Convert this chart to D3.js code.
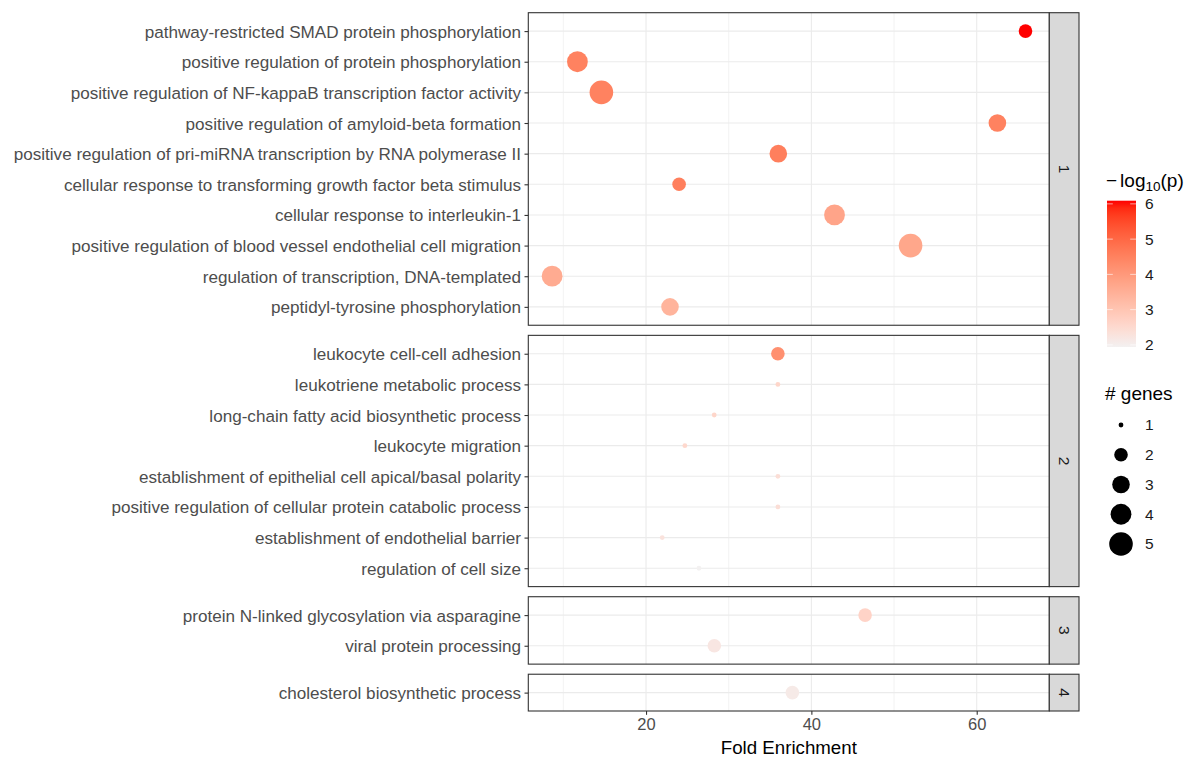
<!DOCTYPE html>
<html><head><meta charset="utf-8">
<script src="https://cdn.jsdelivr.net/npm/d3@7"></script>
<style>body{margin:0;background:#fff}svg{display:block;font-family:"Liberation Sans",Arial,sans-serif}</style>
</head><body><svg id="c" width="1193" height="758"></svg>
<script>
// ---- data ----
const terms = [
 "pathway-restricted SMAD protein phosphorylation",
 "positive regulation of protein phosphorylation",
 "positive regulation of NF-kappaB transcription factor activity",
 "positive regulation of amyloid-beta formation",
 "positive regulation of pri-miRNA transcription by RNA polymerase II",
 "cellular response to transforming growth factor beta stimulus",
 "cellular response to interleukin-1",
 "positive regulation of blood vessel endothelial cell migration",
 "regulation of transcription, DNA-templated",
 "peptidyl-tyrosine phosphorylation",
 "leukocyte cell-cell adhesion",
 "leukotriene metabolic process",
 "long-chain fatty acid biosynthetic process",
 "leukocyte migration",
 "establishment of epithelial cell apical/basal polarity",
 "positive regulation of cellular protein catabolic process",
 "establishment of endothelial barrier",
 "regulation of cell size",
 "protein N-linked glycosylation via asparagine",
 "viral protein processing",
 "cholesterol biosynthetic process"
];
const clusters = [1,1,1,1,1,1,1,1,1,1, 2,2,2,2,2,2,2,2, 3,3, 4];
const foldEnrichment = [65.9,11.7,14.6,62.5,36.0,24.0,42.8,52.0,8.64,22.9,
  35.95,35.95,28.25,24.7,35.95,35.95,21.96,26.4, 46.5,28.26, 37.7];
const negLog10P = [6.09,4.5,4.5,4.5,4.55,4.55,3.75,3.7,3.6,3.4,
  4.2,2.6,2.6,2.55,2.4,2.4,2.3,1.94, 2.65,2.2, 2.1];
const geneCount = [2,4,5,3,3,2,4,5,4,3, 2,1,1,1,1,1,1,1, 2,2, 2];
const xTicks = [20,40,60];
const colorTicks = [2,3,4,5,6];
const sizeBreaks = [1,2,3,4,5];
const panelIds = [1,2,3,4];

// ---- layout ----
const svg = d3.select("#c");
const FONT = '"Liberation Sans",Arial,sans-serif';
const left = 528.3, right = 1049.3, top0 = 12.7, bottom0 = 711, gap = 10.1;
const stripW = 29.7;
const x = d3.scaleLinear().domain([5.76, 68.78]).range([left, right]);
const counts = panelIds.map(id => clusters.filter(c => c === id).length);
const unit = (bottom0 - top0 - gap * (panelIds.length - 1)) / d3.sum(counts, n => n + 0.2);
const color = d3.scaleLinear().domain([1.94, 6.09]).range(["#F3F1F1", "#FF0000"]).interpolate(d3.interpolateLab);
const size = d3.scaleLinear().domain(sizeBreaks).range([2.4, 6.8, 8.8, 10.4, 11.8]);

const data = terms.map((t, i) => ({term: t, cl: clusters[i], fe: foldEnrichment[i], p: negLog10P[i], g: geneCount[i]}));

let yPos = top0;
panelIds.forEach((id, k) => {
  const rows = data.filter(d => d.cl === id);
  const h = (rows.length + 0.2) * unit;
  const y = d3.scalePoint().domain(rows.map(d => d.term)).range([yPos, yPos + h]).padding(0.6);
  const g = svg.append("g");
  g.selectAll(".mg").data([10,30,50]).join("line")
    .attr("x1", d => x(d)).attr("x2", d => x(d)).attr("y1", yPos).attr("y2", yPos + h)
    .attr("stroke", "#EBEBEB").attr("stroke-width", 0.6);
  g.selectAll(".Mg").data(xTicks).join("line")
    .attr("x1", d => x(d)).attr("x2", d => x(d)).attr("y1", yPos).attr("y2", yPos + h)
    .attr("stroke", "#EBEBEB").attr("stroke-width", 1.1);
  g.selectAll(".hg").data(rows).join("line")
    .attr("x1", left).attr("x2", right).attr("y1", d => y(d.term)).attr("y2", d => y(d.term))
    .attr("stroke", "#EBEBEB").attr("stroke-width", 1.1);
  g.selectAll("circle").data(rows).join("circle")
    .attr("cx", d => x(d.fe)).attr("cy", d => y(d.term)).attr("r", d => size(d.g))
    .attr("fill", d => color(d.p));
  g.append("rect").attr("x", left).attr("y", yPos).attr("width", right - left).attr("height", h)
    .attr("fill", "none").attr("stroke", "#333333").attr("stroke-width", 1.1);
  const ya = svg.append("g").attr("transform", `translate(${left},0)`)
    .call(d3.axisLeft(y).tickSize(3.8).tickPadding(3.5));
  ya.select(".domain").remove();
  ya.selectAll(".tick line").attr("stroke", "#333333").attr("stroke-width", 1.1);
  ya.selectAll(".tick text").attr("fill", "#4D4D4D").attr("dy", "0.35em").style("font-size", "17.1px")
    .style("font-family", FONT);
  svg.append("rect").attr("x", right).attr("y", yPos).attr("width", stripW).attr("height", h)
    .attr("fill", "#D9D9D9").attr("stroke", "#333333").attr("stroke-width", 1.1);
  svg.append("text").attr("transform", `translate(${right + stripW/2},${yPos + h/2}) rotate(90)`)
    .attr("text-anchor", "middle").attr("dy", "0.35em").attr("fill", "#1A1A1A")
    .style("font-size", "15.5px").text(id);
  yPos += h + gap;
});

// x axis
const xa = svg.append("g").attr("transform", `translate(0,${bottom0})`)
  .call(d3.axisBottom(x).tickValues(xTicks).tickSize(3.8).tickPadding(3));
xa.select(".domain").remove();
xa.selectAll(".tick line").attr("stroke", "#333333").attr("stroke-width", 1.1);
xa.selectAll(".tick text").attr("fill", "#4D4D4D").style("font-size", "16.5px")
  .style("font-family", FONT);
svg.append("text").attr("x", (left + right) / 2).attr("y", 754).attr("text-anchor", "middle")
  .attr("fill", "#000").style("font-size", "18.7px").text("Fold Enrichment");

// color legend
const lgX = 1107;
const tt = svg.append("text").attr("x", lgX - 1).attr("y", 187).attr("fill", "#000").style("font-size", "19px");
tt.append("tspan").text("\u2212");
tt.append("tspan").attr("dx", 3).text("log");
tt.append("tspan").attr("dy", 4).style("font-size", "13.5px").text("10");
tt.append("tspan").attr("dy", -4).text("(p)");
const cbTop = 200.7, cbBot = 347, cbW = 29;
const cy = d3.scaleLinear().domain(color.domain()).range([cbBot, cbTop]);
const defs = svg.append("defs");
const grad = defs.append("linearGradient").attr("id", "cg").attr("x1", 0).attr("y1", 1).attr("x2", 0).attr("y2", 0);
d3.range(0, 1.0001, 0.05).forEach(t => {
  const v = color.domain()[0] + t * (color.domain()[1] - color.domain()[0]);
  grad.append("stop").attr("offset", t).attr("stop-color", color(v));
});
svg.append("rect").attr("x", lgX).attr("y", cbTop).attr("width", cbW).attr("height", cbBot - cbTop).attr("fill", "url(#cg)");
colorTicks.forEach(v => {
  svg.append("line").attr("x1", lgX).attr("x2", lgX + cbW/5).attr("y1", cy(v)).attr("y2", cy(v)).attr("stroke", "#fff").attr("stroke-width", 0.6);
  svg.append("line").attr("x1", lgX + cbW - cbW/5).attr("x2", lgX + cbW).attr("y1", cy(v)).attr("y2", cy(v)).attr("stroke", "#fff").attr("stroke-width", 0.6);
  svg.append("text").attr("x", 1145).attr("y", cy(v)).attr("dy", "0.35em").attr("fill", "#1A1A1A").style("font-size", "15.5px").text(v);
});

// size legend
svg.append("text").attr("x", lgX - 2).attr("y", 400).attr("fill", "#000").style("font-size", "19px").text("# genes");
const sy = d3.scalePoint().domain(sizeBreaks).range([425, 544]);
sizeBreaks.forEach(v => {
  svg.append("circle").attr("cx", 1121).attr("cy", sy(v)).attr("r", size(v)).attr("fill", "#000");
  svg.append("text").attr("x", 1145).attr("y", sy(v)).attr("dy", "0.35em").attr("fill", "#1A1A1A").style("font-size", "15.5px").text(v);
});
</script></body></html>
